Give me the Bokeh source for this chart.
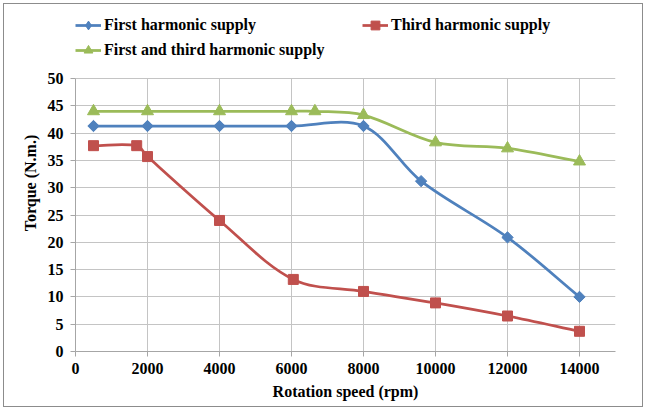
import math
from bokeh.plotting import figure
from bokeh.models import Range1d, FixedTicker, Legend, LegendItem, ColumnDataSource
from bokeh.embed import file_html
from bokeh.resources import INLINE

# ---------------- data ----------------
speed_first = [500, 2000, 4000, 6000, 8000, 9600, 12000, 14000]
torque_first = [41.3, 41.3, 41.3, 41.3, 41.3, 31.2, 20.9, 10.0]

speed_third = [500, 1700, 2000, 4000, 6050, 8000, 10000, 12000, 14000]
torque_third = [37.7, 37.7, 35.7, 24.0, 13.2, 11.0, 8.9, 6.5, 3.7]

speed_both = [500, 2000, 4000, 6000, 6650, 8000, 10000, 12000, 14000]
torque_both = [44.0, 44.0, 44.0, 44.0, 44.0, 43.3, 38.3, 37.2, 34.8]

x_ticks = [0, 2000, 4000, 6000, 8000, 10000, 12000, 14000]
y_ticks = [0, 5, 10, 15, 20, 25, 30, 35, 40, 45, 50]

names = ["First harmonic supply", "Third harmonic supply", "First and third harmonic supply"]
colors = ["#4F81BD", "#C0504D", "#9BBB59"]
markers = ["square", "square", "triangle"]
marker_sizes = [8, 10, 12]
marker_angles = [math.pi / 4, 0, 0]
legend_markers = ["diamond", "square", "triangle"]

# ---------------- layout ----------------
X_MAX, Y_MAX = 15000, 50          # axis extent
FW = 540                          # frame width (px)
FH_DATA = 273                     # height of the 0..50 region (px)
FH = 337                          # frame height incl. legend strip (px)
Y_TOP = Y_MAX * FH / FH_DATA
FONT = "Liberation Serif"
GRID = "#c4c4c4"

p = figure(frame_width=FW, frame_height=FH,
           x_range=Range1d(0, X_MAX), y_range=Range1d(0, Y_TOP),
           min_border_left=75, min_border_right=31, min_border_top=14, min_border_bottom=59,
           output_backend="svg", toolbar_location=None)
p.styles = {"outline": "1px solid #8c8c8c", "outline-offset": "-4px", "background-color": "white"}
p.outline_line_color = None
p.background_fill_color = "white"
p.border_fill_color = None

for ax in (p.xaxis[0], p.yaxis[0]):
    ax.axis_line_color = "#a6a6a6"
    ax.major_tick_line_color = "#a6a6a6"
    ax.major_tick_in = 0
    ax.major_tick_out = 5
    ax.minor_tick_line_color = None
    ax.major_label_text_font = FONT
    ax.major_label_text_font_style = "bold"
    ax.major_label_text_font_size = "16px"
    ax.major_label_text_color = "black"
    ax.axis_label_text_font = FONT
    ax.axis_label_text_font_style = "bold"
    ax.axis_label_text_font_size = "16px"
    ax.axis_label_text_color = "black"

p.xaxis.ticker = FixedTicker(ticks=x_ticks)
p.yaxis.ticker = FixedTicker(ticks=y_ticks)
p.yaxis.bounds = (0, Y_MAX)
p.xaxis.bounds = (0, X_MAX)
p.xaxis.axis_label = "Rotation speed (rpm)"
p.yaxis.axis_label = "Torque (N.m.)"
p.xaxis.major_label_standoff = 6
p.yaxis.major_label_standoff = 7
p.xaxis.axis_label_standoff = 6
p.yaxis.axis_label_standoff = 6

p.ygrid.grid_line_color = GRID
p.ygrid.bounds = (0, Y_MAX)
if hasattr(p.xgrid[0], "cross_bounds"):
    p.xgrid.grid_line_color = GRID
    p.xgrid.cross_bounds = (0, Y_MAX)
    p.ygrid.cross_bounds = (0, X_MAX)
else:
    p.xgrid.grid_line_color = None
    p.segment(x0=x_ticks[1:], y0=[0] * (len(x_ticks) - 1), x1=x_ticks[1:],
              y1=[Y_MAX] * (len(x_ticks) - 1), line_color=GRID, line_width=1, level="underlay")
    p.segment(x0=[X_MAX], y0=[0], x1=[X_MAX], y1=[Y_MAX], line_color=GRID, line_width=1,
              level="underlay")

sx = FW / X_MAX
sy = FH_DATA / Y_MAX


def smooth(xs, ys):
    """Bezier segments through the data points (Excel-like smoothing)."""
    n = len(xs)
    d = lambda a, b: math.hypot((xs[b] - xs[a]) * sx, (ys[b] - ys[a]) * sy)
    out = dict(x0=[], y0=[], x1=[], y1=[], cx0=[], cy0=[], cx1=[], cy1=[])
    for i in range(n - 1):
        a = max(i - 1, 0)
        b = min(i + 2, n - 1)
        L0, L1, L2 = d(a, i), d(i, i + 1), d(i + 1, b)
        f0 = L1 / (3 * (L0 + L1))
        f1 = L1 / (3 * (L1 + L2))
        out["x0"].append(xs[i]); out["y0"].append(ys[i])
        out["x1"].append(xs[i + 1]); out["y1"].append(ys[i + 1])
        out["cx0"].append(xs[i] + (xs[i + 1] - xs[a]) * f0)
        out["cy0"].append(ys[i] + (ys[i + 1] - ys[a]) * f0)
        out["cx1"].append(xs[i + 1] - (xs[b] - xs[i]) * f1)
        out["cy1"].append(ys[i + 1] - (ys[b] - ys[i]) * f1)
    return ColumnDataSource(out)


series = [(speed_first, torque_first), (speed_third, torque_third), (speed_both, torque_both)]
items = []
for (xs, ys), name, c, m, ms, ma, lm in zip(series, names, colors, markers, marker_sizes,
                                          marker_angles, legend_markers):
    br = p.bezier(x0="x0", y0="y0", x1="x1", y1="y1", cx0="cx0", cy0="cy0", cx1="cx1", cy1="cy1",
                  source=smooth(xs, ys), line_color=c, line_width=2.75)
    key = None
    if lm != m:
        # key swatch: a diamond that sits hidden under the first rotated-square marker
        key = p.scatter(xs[:1], ys[:1], marker=lm, size=ms, fill_color=c, line_color=c, line_width=1)
    sr = p.scatter(xs, ys, marker=m, size=ms, angle=ma, fill_color=c, line_color=c, line_width=1)
    items.append(LegendItem(label=name, renderers=[br, key if key is not None else sr]))


def make_legend(its, loc):
    lg = Legend(items=its, location=loc, orientation="vertical")
    lg.background_fill_alpha = 0
    lg.border_line_color = None
    lg.padding = 0
    lg.margin = 0
    lg.spacing = 3
    lg.glyph_width = 26
    lg.glyph_height = 22
    lg.label_height = 22
    lg.label_standoff = 3
    lg.label_text_font = FONT
    lg.label_text_font_style = "bold"
    lg.label_text_font_size = "16px"
    lg.label_text_color = "black"
    lg.label_text_baseline = "middle"
    p.add_layout(lg, "center")
    return lg


make_legend([items[0], items[2]], (0, 290))
make_legend([items[1]], (287, 315))

open("out.html", "w").write(file_html(p, INLINE))
